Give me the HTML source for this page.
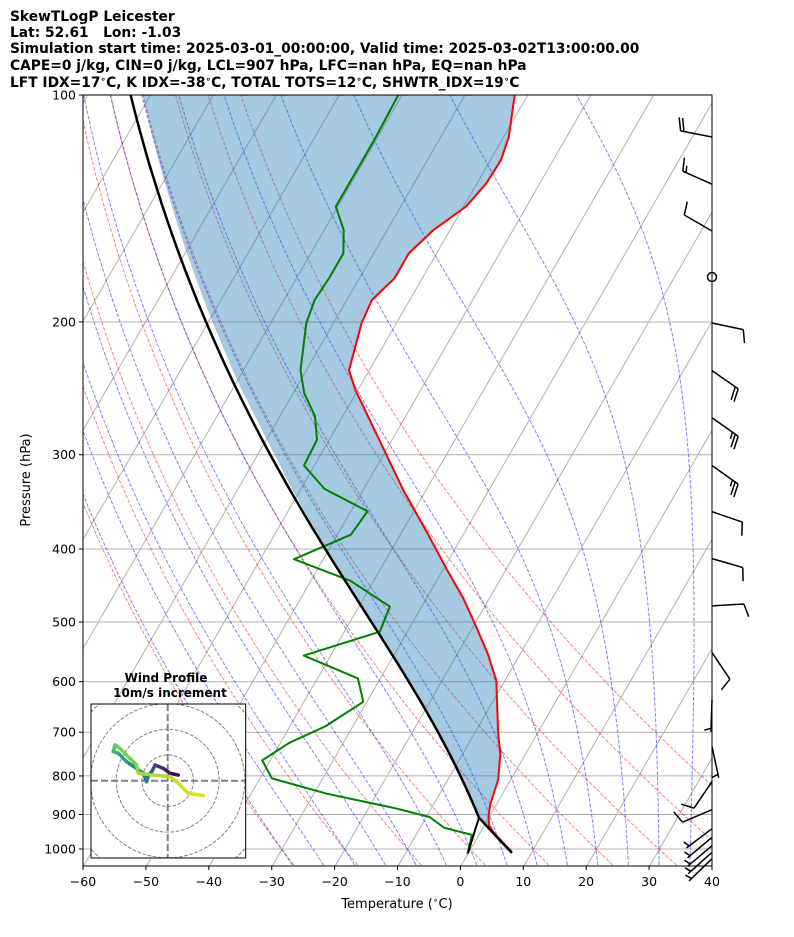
<!DOCTYPE html>
<html><head><meta charset="utf-8"><style>
body{margin:0;background:#fff;}
svg{display:block;font-family:"DejaVu Sans","Liberation Sans",sans-serif;}
</style></head><body>
<svg id="svg" width="794" height="937" viewBox="0 0 794 937" xmlns="http://www.w3.org/2000/svg">
<defs><clipPath id="plotclip"><rect x="83" y="95" width="629" height="771"/></clipPath>
<clipPath id="hodoclip"><rect x="91" y="704" width="154.7" height="154"/></clipPath></defs>
<rect x="0" y="0" width="794" height="937" fill="#fff"/>
<g font-weight="bold" font-size="13.8" fill="#000" style="white-space:pre">
<text x="10" y="21">SkewTLogP Leicester</text>
<text x="10" y="37" xml:space="preserve">Lat: 52.61   Lon: -1.03</text>
<text x="10" y="53">Simulation start time: 2025-03-01_00:00:00, Valid time: 2025-03-02T13:00:00.00</text>
<text x="10" y="70">CAPE=0 j/kg, CIN=0 j/kg, LCL=907 hPa, LFC=nan hPa, EQ=nan hPa</text>
<text x="10" y="87">LFT IDX=17<tspan font-size="9" dy="-5">∘</tspan><tspan dy="5">C, K IDX=-38</tspan><tspan font-size="9" dy="-5">∘</tspan><tspan dy="5">C, TOTAL TOTS=12</tspan><tspan font-size="9" dy="-5">∘</tspan><tspan dy="5">C, SHWTR_IDX=19</tspan><tspan font-size="9" dy="-5">∘</tspan><tspan dy="5">C</tspan></text>
</g>
<g id="bg" clip-path="url(#plotclip)"></g>
<g id="data" clip-path="url(#plotclip)"></g>
<rect x="83" y="95" width="629" height="771" fill="none" stroke="#000" stroke-width="1"/>
<g id="axes" font-size="12.5" fill="#000"></g>
<text x="397" y="908" font-size="13" text-anchor="middle">Temperature (<tspan font-size="9" dy="-5">∘</tspan><tspan dy="5">C)</tspan></text>
<text transform="translate(30,480) rotate(-90)" font-size="13" text-anchor="middle">Pressure (hPa)</text>
<g id="barbs"></g>
<g id="hodo"></g>
</svg>
<script>
// ---- data ----
const tempP=[100,113.6,121.9,131,140.6,151,162.2,175,187,200.7,231.7,246,334,381,427,465,500,551,598,702,749,810,873,904,930,952,1008];
const tempT=[-62.1,-59.2,-58.3,-58.5,-59.6,-62.6,-64.4,-64.4,-66,-65.5,-63.2,-60.4,-43.6,-35.8,-29.2,-24.1,-20.2,-15.1,-11.3,-6.2,-3.9,-1.9,-0.9,-0.1,0.8,2.3,6.8];
const dewP=[100,114.7,140.6,151,162.2,175,187,200.7,231.7,248.6,266.5,286.6,310,333,356.6,383,412.7,441,477,515,554,594,638,688,723,763,806,845,883,907,937,958,1015];
const dewT=[-80.6,-80.3,-80.3,-76.9,-74.8,-74.8,-75.1,-74.3,-70.9,-68.2,-64.4,-61.9,-61.6,-56.2,-47.3,-47.8,-54.6,-43.6,-35.0,-34.3,-44.2,-33.5,-30.5,-34.3,-38.5,-41.2,-38.0,-27.8,-15.6,-9.4,-6.1,-1.0,0.0];
const sfcP=1012, sfcT=7, sfcTd=0;
const pTicks=[100,200,300,400,500,600,700,800,900,1000];
const tTicks=[-60,-50,-40,-30,-20,-10,0,10,20,30,40];
const dryT0=[-30,-20,-10,0,10,20,30,40,50];
const moistT0=[-30,-25,-20,-15,-10,-5,0,5,10,15,20,25,30,35];
const barbP=[113.7,131.3,151.5,174.3,200.6,232,268,310,357,412,476,549,634,731,814,887,940,965,990,1010,1030];
const barbAng=[-169,-156,-150,0,12,35,35,35.5,19,16,-3.4,56,92,78,124,157,143,140,140,138,136];
const barbSpd=[20,15,10,0,10,20,25,25,10,10,10,10,5,5,10,10,5,5,5,5,5];
const hodoU=[4.1,0.9,-1.7,-4.9,-6.2,-7.5,-8.2,-9.5,-16,-19.2,-21.2,-20.5,-18.6,-12.1,-11.4,-6.2,0.9,3.5,8,13.9];
const hodoV=[2.2,2.9,4.8,6.1,3.5,2.2,-0.4,2.9,7.4,10.7,11.3,13.9,12.6,6.1,2.9,2.2,1.6,-0.4,-4.9,-5.8];

// ---- axes ----
const NS="http://www.w3.org/2000/svg";
const X0=83,X1=712,Y0=95,Y1=866,PXC=6.29,SKEW=0.577;
const yP=p=>Y0+754*Math.log10(p/100);
const xT=(T,p)=>X0+(T+60)*PXC+(Y1-yP(p))*SKEW;
function mk(tag,attrs,parent){const e=document.createElementNS(NS,tag);for(const k in attrs)e.setAttribute(k,attrs[k]);parent.appendChild(e);return e;}
const bg=document.getElementById('bg'),dg=document.getElementById('data'),ax=document.getElementById('axes');
const path=pts=>'M'+pts.map(q=>q[0].toFixed(1)+','+q[1].toFixed(1)).join('L');

// thermo
const Rd=287.04,Cp=1005.7,Lv=2.501e6,EPS=0.622,KAP=Rd/Cp;
const es=T=>6.112*Math.exp(17.67*T/(T+243.5));
const rs=(T,p)=>EPS*es(T)/(p-es(T));
function dTdp(p,Tk){const r=rs(Tk-273.15,p);return (Rd*Tk+Lv*r)/(p*(Cp+Lv*Lv*r*EPS/(Rd*Tk*Tk)));}
function moist(T0,p0,p1){const pts=[];let T=T0+273.15,p=p0;const n=Math.ceil(Math.abs(p1-p0)/4),dp=(p1-p0)/n;
 pts.push([p,T-273.15]);for(let i=0;i<n;i++){const k1=dTdp(p,T),k2=dTdp(p+dp/2,T+k1*dp/2);T+=k2*dp;p+=dp;pts.push([p,T-273.15]);}return pts;}

// grid
pTicks.forEach(p=>{const l=mk('line',{x1:X0,x2:X1,y1:yP(p),y2:yP(p),stroke:'#b0b0b0','stroke-width':1},bg);
});
for(let T=-200;T<=40;T+=10){const l=mk('line',{x1:xT(T,1050),y1:Y1,x2:xT(T,100),y2:Y0,stroke:'#b0b0b0','stroke-width':1},bg);
}
const plevs=[];for(let p=1050;p>=100;p-=10)plevs.push(p);
dryT0.forEach(t=>{const th=t+273.15;const pts=plevs.map(p=>[xT(th*Math.pow(p/1000,KAP)-273.15,p),yP(p)]);
const e=mk('path',{d:path(pts),fill:'none',stroke:'#ff0000','stroke-opacity':0.5,'stroke-width':1,'stroke-dasharray':'3.7,1.6'},bg);
});
moistT0.forEach(t=>{const a=moist(t,1000,100),b=moist(t,1000,1050).reverse();const pts=b.concat(a.slice(1)).map(q=>[xT(q[1],q[0]),yP(q[0])]);
const e=mk('path',{d:path(pts),fill:'none',stroke:'#0000ff','stroke-opacity':0.5,'stroke-width':1,'stroke-dasharray':'3.7,1.6'},bg);
});

// parcel
const rmix=rs(sfcTd,sfcP);let pL=sfcP,TL=sfcT;
for(let p=sfcP;p>300;p-=0.5){const T=(sfcT+273.15)*Math.pow(p/sfcP,KAP)-273.15;const e=rmix*p/(EPS+rmix);const td=243.5*Math.log(e/6.112)/(17.67-Math.log(e/6.112));if(td>=T){pL=p;TL=T;break;}}
const dryPart=[];for(let p=sfcP;p>pL;p-=2)dryPart.push([p,(sfcT+273.15)*Math.pow(p/sfcP,KAP)-273.15]);
const parcel=dryPart.concat(moist(TL,pL,100));
function parcelAt(p){for(let i=0;i<parcel.length-1;i++){const a=parcel[i],b=parcel[i+1];if(p<=a[0]&&p>=b[0]){const f=(a[0]-p)/(a[0]-b[0]);return a[1]+f*(b[1]-a[1]);}}return parcel[parcel.length-1][1];}
const tdLine=[];for(let p=sfcP;p>=pL;p-=2){const e=rmix*p/(EPS+rmix);tdLine.push([p,243.5*Math.log(e/6.112)/(17.67-Math.log(e/6.112))]);}
tdLine.push([pL,TL]);

// fill between temp and (virtual) parcel
const fpts=tempP.map((p,i)=>[xT(tempT[i],p),yP(p)]);
for(let i=tempP.length-1;i>=0;i--){const p=tempP[i];const off=Math.max(0,12*Math.log10(450/p)/Math.log10(4.5));
 fpts.push([xT(parcelAt(p),p)+off,yP(p)]);}
const fill=mk('path',{d:path(fpts)+'Z',fill:'#1f77b4','fill-opacity':0.4,stroke:'none'},dg);


const tl=mk('path',{d:path(tempP.map((p,i)=>[xT(tempT[i],p),yP(p)])),fill:'none',stroke:'#ff0000','stroke-width':2,'stroke-linejoin':'round'},dg);

const dl=mk('path',{d:path(dewP.map((p,i)=>[xT(dewT[i],p),yP(p)])),fill:'none',stroke:'#008000','stroke-width':2,'stroke-linejoin':'round'},dg);

const pl=mk('path',{d:path(parcel.map(q=>[xT(q[1],q[0]),yP(q[0])])),fill:'none',stroke:'#000','stroke-width':2.5},dg);

const ml=mk('path',{d:path(tdLine.map(q=>[xT(q[1],q[0]),yP(q[0])])),fill:'none',stroke:'#000','stroke-width':2},dg);


// ticks
pTicks.forEach(p=>{const y=yP(p);mk('line',{x1:X0-4,x2:X0,y1:y,y2:y,stroke:'#000'},ax);
const t=mk('text',{x:X0-7,y:y+4.5,'text-anchor':'end'},ax);t.textContent=p;
});
tTicks.forEach(T=>{const x=X0+(T+60)*PXC;mk('line',{x1:x,x2:x,y1:Y1,y2:Y1+4,stroke:'#000'},ax);
const t=mk('text',{x:x,y:Y1+20,'text-anchor':'middle'},ax);t.textContent=(T<0?'\u2212'+(-T):T);
});

// barbs
const bgp=document.getElementById('barbs');
barbP.forEach((p,i)=>{const ax0=X1,ay=yP(p),s=barbSpd[i];
 if(s===0){const c=mk('circle',{cx:ax0,cy:ay,r:4.5,fill:'none',stroke:'#000','stroke-width':1.5},bgp);
  return;}
 const a=barbAng[i]*Math.PI/180,c=Math.cos(a),sn=Math.sin(a),L=32;
 const tx=ax0+L*c,ty=ay+L*sn,px=-sn,py=c;let d=`M${ax0},${ay.toFixed(1)}L${tx.toFixed(1)},${ty.toFixed(1)}`;
 let full=Math.floor(s/10),half=(s%10)>=5?1:0,pos=0;
 for(let k=0;k<full;k++){const bx=tx-c*pos,by=ty-sn*pos;d+=`M${bx.toFixed(1)},${by.toFixed(1)}l${(px*13+c*4).toFixed(1)},${(py*13+sn*4).toFixed(1)}`;pos+=3.5;}
 if(half){if(full===0)pos=3.5;const bx=tx-c*pos,by=ty-sn*pos;d+=`M${bx.toFixed(1)},${by.toFixed(1)}l${(px*6.5+c*2).toFixed(1)},${(py*6.5+sn*2).toFixed(1)}`;}
 const e=mk('path',{d:d,fill:'none',stroke:'#000','stroke-width':1.5},bgp);
 });

// hodograph
const hg=document.getElementById('hodo');const HX=167.7,HY=780.7,HS=2.57;
const ht1=mk('text',{x:166,y:682,'font-size':12,'font-weight':'bold','text-anchor':'middle'},hg);ht1.textContent='Wind Profile';

const ht2=mk('text',{x:170,y:697,'font-size':12,'font-weight':'bold','text-anchor':'middle'},hg);ht2.textContent='10m/s increment';

mk('rect',{x:91,y:704,width:154.7,height:154,fill:'#fff'},hg);
const hc=mk('g',{'clip-path':'url(#hodoclip)'},hg);
[10,20,30,40].forEach(r=>{const c=mk('circle',{cx:HX,cy:HY,r:r*HS,fill:'none',stroke:'#808080','stroke-dasharray':'3.7,1.6','stroke-width':1},hc);
});
mk('line',{x1:91,x2:246,y1:HY,y2:HY,stroke:'#808080','stroke-width':2,'stroke-dasharray':'7,3'},hc);
mk('line',{x1:HX,x2:HX,y1:704,y2:858,stroke:'#808080','stroke-width':2,'stroke-dasharray':'7,3'},hc);
const vir=[[68,1,84],[59,82,139],[33,145,140],[94,201,98],[170,220,50],[220,227,25]];
function vcol(f){const s=f*(vir.length-1),i=Math.min(Math.floor(s),vir.length-2),t=s-i;const c=vir[i].map((v,k)=>Math.round(v+(vir[i+1][k]-v)*t));return `rgb(${c})`;}
for(let i=0;i<hodoU.length-1;i++){const l=mk('line',{x1:HX+hodoU[i]*HS,y1:HY-hodoV[i]*HS,x2:HX+hodoU[i+1]*HS,y2:HY-hodoV[i+1]*HS,stroke:vcol(i/(hodoU.length-2)),'stroke-width':3.5,'stroke-linecap':'round'},hc);
}
const hb=mk('rect',{x:91,y:704,width:154.7,height:154,fill:'none',stroke:'#000','stroke-width':1},hg);

</script>
</body></html>
